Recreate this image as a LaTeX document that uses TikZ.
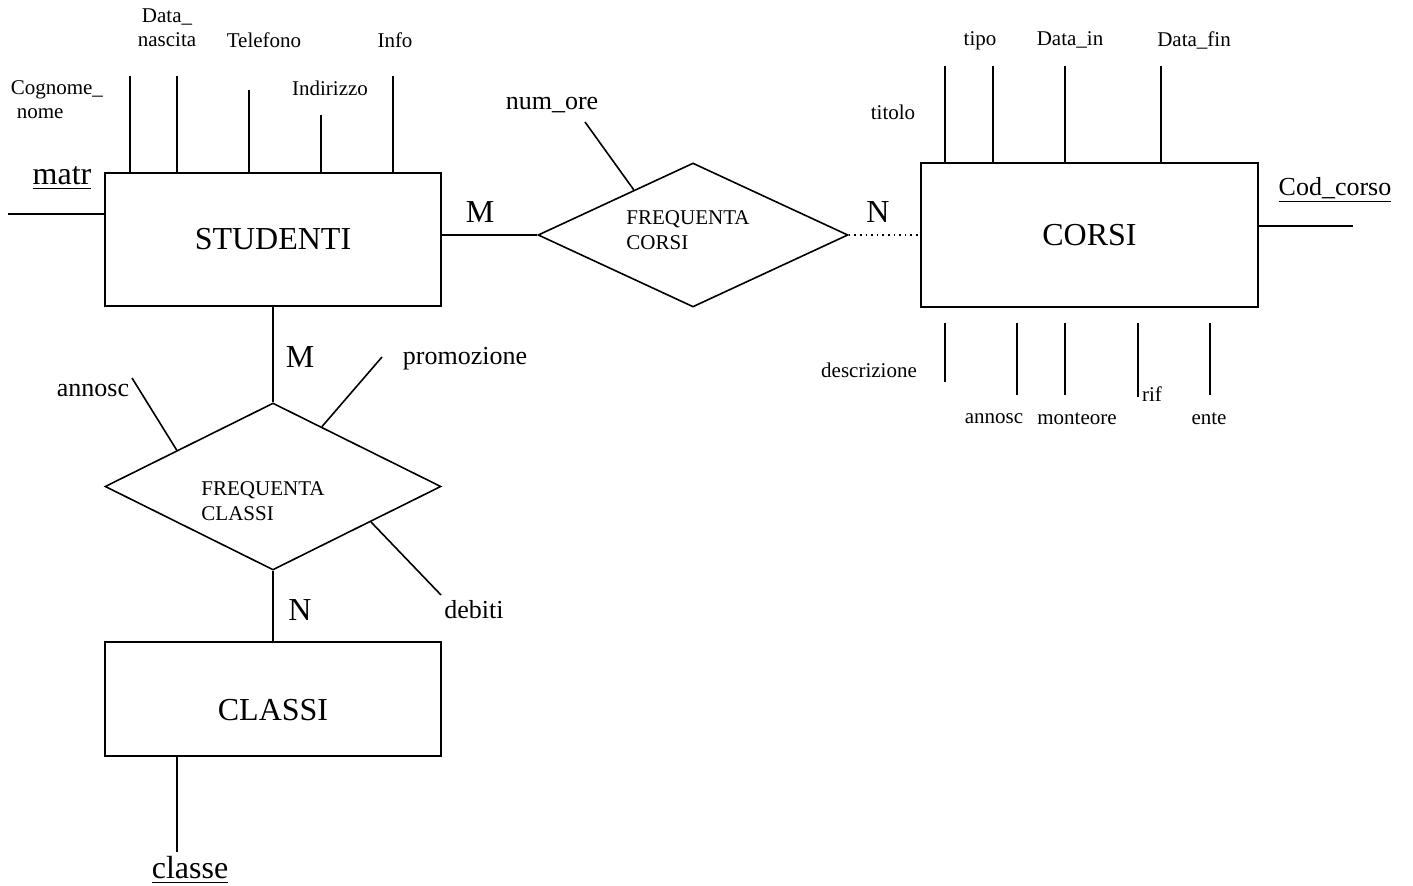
\documentclass[tikz,border=0pt]{standalone}
\usepackage{fontspec}
\setmainfont{Liberation Serif}
\usetikzlibrary{shapes.geometric,calc}
\tikzset{
  entity/.style={draw,rectangle,minimum width=168pt,font=\fontsize{16}{19}\selectfont},
  relation/.style={draw,diamond,inner sep=0pt,align=left,font=\fontsize{10.5}{12.5}\selectfont},
  small/.style={font=\fontsize{10.5}{12}\selectfont,inner sep=0pt},
  medium/.style={font=\fontsize{13}{15}\selectfont,inner sep=0pt},
  large/.style={font=\fontsize{16}{19}\selectfont,inner sep=0pt}
}
\begin{document}
\begin{tikzpicture}[x=0.5pt,y=-0.5pt,line width=0.8pt]
\useasboundingbox (0,0) rectangle (1413,886);
% entities and relations
\node[entity,minimum height=66.5pt] (stud) at (273,239.5) {STUDENTI};
\node[entity,minimum width=168.5pt,minimum height=72pt] (corsi) at (1089.5,235) {CORSI};
\node[entity,minimum height=57pt,text height=21pt,text depth=0pt] (classi) at (273,699) {CLASSI};
\node[relation,aspect=2.15,minimum width=155pt,minimum height=72pt,text height=14.5pt] (fc) at (693,235) {FREQUENTA\rule{5pt}{0pt}\\CORSI};
\node[relation,aspect=2,minimum width=168pt,minimum height=83.5pt,text height=34.5pt] (fcl) at (273,486.5) {FREQUENTA\rule{10pt}{0pt}\\CLASSI};
% links
\draw (stud.east |- fc.west) -- (fc.west);
\draw[dotted] (fc.east) -- (corsi.west);
\draw (stud.south) -- (fcl.north);
\draw (fcl.south) -- (classi.north);
\node[large] (m1) at (480,212) {M};
\node[large] (n1) at (878,212) {N};
\node[large] (m2) at (300,357) {M};
\node[large] (n2) at (300,610) {N};
% attributes of STUDENTI
\foreach \x/\y [count=\i] in {130/76,177/76,249/90,321/115,393/76}{
  \coordinate (s\i) at (\x,\y);
  \draw (s\i) -- (s\i |- stud.north);
}
\node[small,align=left,anchor=west] (cognome) at (10,100) {Cognome\_\\\hspace{3pt}nome};
\node[small,align=center] (nascita) at (167,28) {Data\_\\nascita};
\node[small] (telefono) at (264,40) {Telefono};
\node[small] (indirizzo) at (330,88) {Indirizzo};
\node[small] (info) at (395,40) {Info};
\coordinate (k1) at (8,214);
\draw (k1) -- (k1 -| stud.west);
\node[large] (matr) at (62,178) {\underline{matr}};
% attributes of CORSI
\foreach \x/\y [count=\i] in {945/66,993/66,1065/66,1161/66}{
  \coordinate (ct\i) at (\x,\y);
  \draw (ct\i) -- (ct\i |- corsi.north);
}
\foreach \x/\y [count=\i] in {945/382,1017/395,1065/395,1138/397,1210/395}{
  \coordinate (cb\i) at (\x,\y);
  \draw ($(cb\i |- corsi.south)+(0,15)$) -- (cb\i);
}
\node[small] (titolo) at (893,112) {titolo};
\node[small] (tipo) at (980,41) {tipo};
\node[small] (datain) at (1070,40) {Data\_in};
\node[small] (datafin) at (1194,40) {Data\_fin};
\node[small] (descr) at (869,370) {descrizione};
\node[small] (annosc1) at (994,419) {annosc};
\node[small] (monteore) at (1077,419) {monteore};
\node[small] (rif) at (1152,394) {rif};
\node[small] (ente) at (1209,419) {ente};
\coordinate (k2) at (1353,226);
\draw (k2) -- (k2 -| corsi.east);
\node[medium] (codcorso) at (1335,190) {\underline{Cod\_corso}};
% attributes of the relations
\coordinate (r1) at (585,122);
\draw (r1) -- ($(fc.west)!0.62!(fc.north)$);
\node[medium] (numore) at (552,105) {num\_ore};
\coordinate (r2) at (132,378);
\draw (r2) -- ($(fcl.west)!0.43!(fcl.north)$);
\node[medium] (annosc2) at (93,391) {annosc};
\coordinate (r3) at (382,357);
\draw (r3) -- ($(fcl.north)!0.29!(fcl.east)$);
\node[medium] (promo) at (465,359) {promozione};
\coordinate (r4) at (441,595);
\draw (r4) -- ($(fcl.east)!0.42!(fcl.south)$);
\node[medium] (debiti) at (474,610) {debiti};
% key of CLASSI
\coordinate (k3) at (177,852);
\draw (k3 |- classi.south) -- (k3);
\node[large] (classe) at (190,870) {\underline{classe}};
\end{tikzpicture}
\end{document}
